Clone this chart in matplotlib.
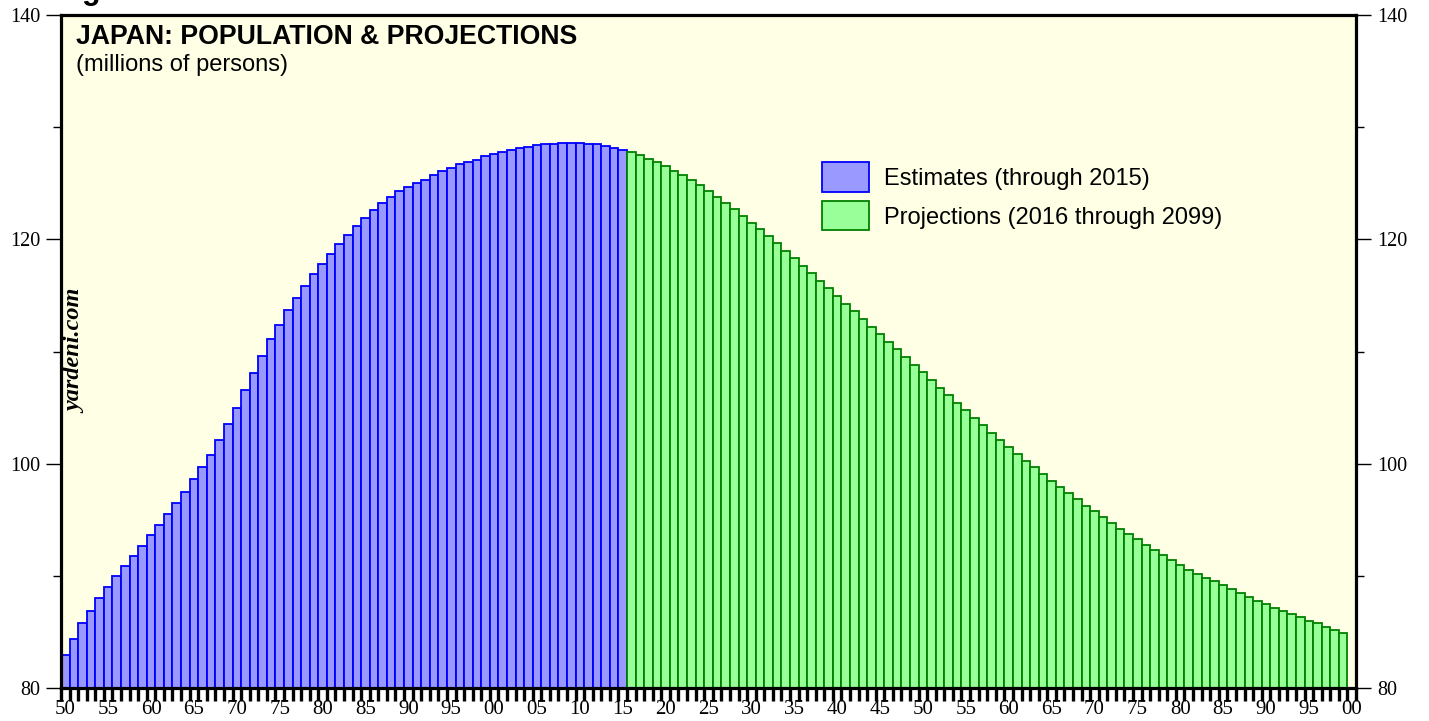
import matplotlib
matplotlib.use("Agg")
import matplotlib.pyplot as plt
from matplotlib.patches import Patch
import numpy as np

# population in millions
est_years = list(range(1950, 2016))
est_values = [
    82.9, 84.4, 85.8, 86.9, 88.0, 89.0, 90.0, 90.9, 91.8, 92.7,
    93.6, 94.5, 95.5, 96.5, 97.5, 98.6, 99.7, 100.8, 102.1, 103.5,
    105.0, 106.6, 108.1, 109.6, 111.1, 112.4, 113.7, 114.8, 115.8, 116.9,
    117.8, 118.7, 119.6, 120.4, 121.2, 121.9, 122.6, 123.2, 123.8, 124.3,
    124.7, 125.0, 125.3, 125.7, 126.1, 126.4, 126.7, 126.9, 127.1, 127.4,
    127.6, 127.8, 127.95, 128.1, 128.25, 128.4, 128.48, 128.54, 128.57, 128.57,
    128.57, 128.54, 128.48, 128.36, 128.18, 127.97,
]

proj_years = list(range(2016, 2100))
proj_values = [
    127.77, 127.5, 127.2, 126.9, 126.5, 126.1, 125.7, 125.28, 124.8, 124.35,
    123.8, 123.25, 122.68, 122.09, 121.49, 120.88, 120.26, 119.63, 118.99, 118.34,
    117.66, 116.98, 116.3, 115.62, 114.94, 114.26, 113.58, 112.9, 112.22, 111.54,
    110.86, 110.18, 109.5, 108.82, 108.14, 107.46, 106.78, 106.1, 105.42, 104.74,
    104.07, 103.41, 102.76, 102.12, 101.49, 100.87, 100.26, 99.66, 99.07, 98.49,
    97.92, 97.36, 96.81, 96.27, 95.74, 95.22, 94.71, 94.21, 93.72, 93.24,
    92.77, 92.31, 91.86, 91.42, 90.99, 90.55, 90.12, 89.8, 89.5, 89.2,
    88.8, 88.5, 88.14, 87.78, 87.5, 87.16, 86.86, 86.6, 86.3, 85.99,
    85.76, 85.46, 85.17, 84.87,
]

label_years = list(range(1950, 2101, 5))
label_text = ["%02d" % (y % 100) for y in label_years]

fig = plt.figure(figsize=(14.29, 7.21), dpi=100)
ax = fig.add_axes([61 / 1429, 1 - 688 / 721, 1295 / 1429, 673 / 721])
ax.set_facecolor("#ffffe6")

ax.bar(est_years, est_values, width=1.0, align="edge",
       color="#9999ff", edgecolor="#0000ff", linewidth=1.3, zorder=2)
ax.bar(proj_years, proj_values, width=1.0, align="edge",
       color="#99ff99", edgecolor="#008000", linewidth=1.3, zorder=2)

ax.set_xlim(1950, 2101)
ax.set_ylim(80, 140)

for s in ax.spines.values():
    s.set_linewidth(2.3)
    s.set_zorder(5)

# x axis: a tick for every year, labels between ticks
ax.set_xticks(np.arange(1950, 2102), labels=[])
ax.set_xticks(np.array(label_years) + 0.5, labels=label_text, minor=True)
ax.tick_params(axis="x", which="major", direction="out", length=9, width=2.4, color="black")
ax.tick_params(axis="x", which="minor", length=0, pad=9)
for t in ax.get_xticklabels(minor=True):
    t.set_fontfamily("Liberation Serif")
    t.set_fontsize(15)

# y axis on both sides
ax.set_yticks([80, 100, 120, 140])
ax.set_yticks([90, 110, 130], minor=True)
ax.tick_params(axis="y", which="both", left=True, right=True,
               labelleft=True, labelright=True, direction="out", width=1.0)
ax.tick_params(axis="y", which="major", length=11, pad=4)
ax.tick_params(axis="y", which="minor", length=6)
for t in ax.get_yticklabels():
    t.set_fontfamily("Liberation Serif")
    t.set_fontsize(14.5)

ax.text(0.0115, 0.967, "JAPAN: POPULATION & PROJECTIONS", transform=ax.transAxes,
        fontsize=19.2, fontweight="bold", family="Liberation Sans", va="center", ha="left")
ax.text(0.0115, 0.926, "(millions of persons)", transform=ax.transAxes,
        fontsize=17, family="Liberation Sans", va="center", ha="left")
ax.text(0.0116, 0.5, "yardeni.com", transform=ax.transAxes, rotation=90,
        fontsize=17.5, fontweight="bold", fontstyle="italic", family="Liberation Serif",
        va="center", ha="center")

# caption above the chart, cut off by the top edge (only the descender shows)
fig.text(55 / 1429, 1 + 0.5 / 721, "Figure 1.", fontsize=22, fontweight="bold",
         family="Liberation Sans", va="baseline", ha="left")

handles = [Patch(facecolor="#9999ff", edgecolor="#0000ff", linewidth=1.3),
           Patch(facecolor="#99ff99", edgecolor="#008000", linewidth=1.3)]
ax.legend(handles, ["Estimates (through 2015)", "Projections (2016 through 2099)"],
          loc="upper left", bbox_to_anchor=(0.588, 0.781), frameon=False,
          handlelength=1.95, handleheight=1.53, handletextpad=0.64,
          labelspacing=0.4, borderpad=0, borderaxespad=0,
          prop={"family": "Liberation Sans", "size": 17})

fig.savefig("out.png", dpi=100)
